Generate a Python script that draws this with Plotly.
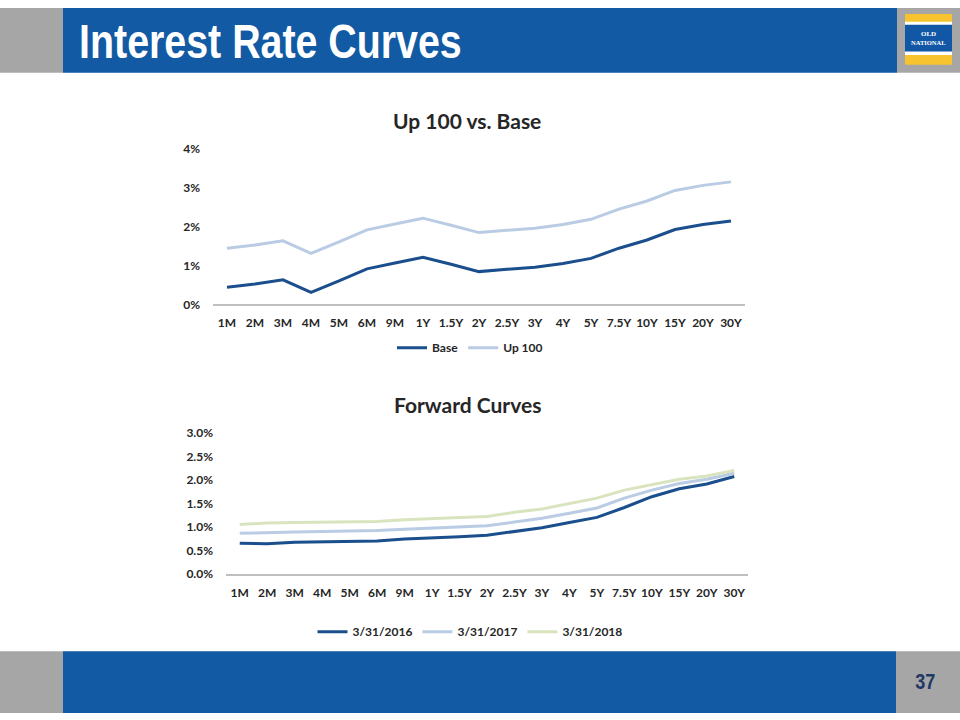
import plotly.graph_objects as go

W, H = 960, 720

tenors = ["1M", "2M", "3M", "4M", "5M", "6M", "9M", "1Y", "1.5Y", "2Y", "2.5Y",
          "3Y", "4Y", "5Y", "7.5Y", "10Y", "15Y", "20Y", "30Y"]

base = [0.44, 0.52, 0.63, 0.31, 0.60, 0.91, 1.06, 1.21, 1.03, 0.84, 0.90,
        0.95, 1.05, 1.18, 1.44, 1.65, 1.92, 2.05, 2.14]
up100 = [1.44, 1.52, 1.63, 1.31, 1.60, 1.91, 2.06, 2.21, 2.03, 1.84, 1.90,
         1.95, 2.05, 2.18, 2.44, 2.65, 2.92, 3.05, 3.14]

fwd_2016 = [0.66, 0.65, 0.68, 0.69, 0.70, 0.71, 0.75, 0.77, 0.80, 0.83, 0.91,
            0.99, 1.10, 1.21, 1.42, 1.65, 1.82, 1.92, 2.08]
fwd_2017 = [0.87, 0.89, 0.90, 0.91, 0.92, 0.93, 0.96, 0.98, 1.00, 1.03, 1.11,
            1.19, 1.30, 1.41, 1.62, 1.79, 1.93, 2.02, 2.15]
fwd_2018 = [1.06, 1.09, 1.10, 1.11, 1.12, 1.12, 1.16, 1.19, 1.21, 1.23, 1.32,
            1.39, 1.51, 1.62, 1.79, 1.91, 2.02, 2.09, 2.21]

C_DARK = "#1A4E8C"
C_LIGHT = "#B9CCE4"
C_GREEN = "#D9E4BE"
TXT = "#262626"
FONT = "Lato, 'Open Sans', sans-serif"
ARIAL = "'Liberation Sans', Arial, sans-serif"


def fx(px):
    return px / W


def fy(py):
    return 1 - py / H


fig = go.Figure()

fig.add_trace(go.Scatter(x=tenors, y=base, name="Base", mode="lines",
                         line=dict(color=C_DARK, width=3), xaxis="x", yaxis="y", legend="legend"))
fig.add_trace(go.Scatter(x=tenors, y=up100, name="Up 100", mode="lines",
                         line=dict(color=C_LIGHT, width=3), xaxis="x", yaxis="y", legend="legend"))

fig.add_trace(go.Scatter(x=tenors, y=fwd_2016, name="3/31/2016", mode="lines",
                         line=dict(color=C_DARK, width=3), xaxis="x2", yaxis="y2", legend="legend2"))
fig.add_trace(go.Scatter(x=tenors, y=fwd_2017, name="3/31/2017", mode="lines",
                         line=dict(color=C_LIGHT, width=3), xaxis="x2", yaxis="y2", legend="legend2"))
fig.add_trace(go.Scatter(x=tenors, y=fwd_2018, name="3/31/2018", mode="lines",
                         line=dict(color=C_GREEN, width=3), xaxis="x2", yaxis="y2", legend="legend2"))

tickfont = dict(family=FONT, size=12, color=TXT, weight="bold")

xcommon = dict(type="category", range=[-0.5, 18.5], showgrid=False, zeroline=False,
               showline=True, linecolor="#BFBFBF", linewidth=2, ticks="",
               tickfont=tickfont, ticklabelstandoff=6, fixedrange=True)
ycommon = dict(showgrid=False, zeroline=False, showline=False, ticks="",
               tickfont=tickfont, ticklabelstandoff=12, fixedrange=True)

fig.update_layout(
    width=W, height=H,
    margin=dict(l=0, r=0, t=0, b=0),
    paper_bgcolor="white", plot_bgcolor="white",
    showlegend=True,
    xaxis=dict(domain=[fx(213), fx(745)], anchor="y", **xcommon),
    yaxis=dict(domain=[fy(302.7), fy(143.3)], anchor="x", range=[0, 4], dtick=1,
               ticksuffix="%", **ycommon),
    xaxis2=dict(domain=[fx(226), fx(748)], anchor="y2", **xcommon),
    yaxis2=dict(domain=[fy(578.3), fy(434.3)], anchor="x2", range=[0, 3], dtick=0.5,
                tickformat=".1f", ticksuffix="%", **ycommon),
    legend=dict(orientation="h", x=fx(470), xanchor="center", y=fy(347), yanchor="middle",
                font=dict(family=FONT, size=12, color=TXT, weight="bold"),
                bgcolor="rgba(0,0,0,0)", itemwidth=30, tracegroupgap=0),
    legend2=dict(orientation="h", x=fx(470), xanchor="center", y=fy(637), yanchor="middle",
                 font=dict(family=FONT, size=12, color=TXT, weight="bold"),
                 bgcolor="rgba(0,0,0,0)", itemwidth=30, tracegroupgap=0),
)

# header / footer bands
shapes = []
BLUE = "#125AA3"
GRAY = "#A6A6A6"
shapes.append(dict(type="rect", xref="paper", yref="paper", x0=0, x1=fx(63), y0=fy(66), y1=1,
                   fillcolor=GRAY, line_width=0, layer="below"))
shapes.append(dict(type="rect", xref="paper", yref="paper", x0=fx(63), x1=fx(897), y0=fy(66), y1=1,
                   fillcolor=BLUE, line_width=0, layer="below"))
shapes.append(dict(type="rect", xref="paper", yref="paper", x0=fx(897), x1=1, y0=fy(66), y1=1,
                   fillcolor=GRAY, line_width=0, layer="below"))
# logo
shapes.append(dict(type="rect", xref="paper", yref="paper", x0=fx(905), x1=fx(952), y0=fy(58), y1=fy(6),
                   fillcolor="#F7C32E", line_width=0))
shapes.append(dict(type="rect", xref="paper", yref="paper", x0=fx(905), x1=fx(952), y0=fy(48), y1=fy(14),
                   fillcolor="white", line_width=0))
shapes.append(dict(type="rect", xref="paper", yref="paper", x0=fx(905), x1=fx(952), y0=fy(44.5), y1=fy(17),
                   fillcolor="#1257A6", line_width=0))
# footer
shapes.append(dict(type="rect", xref="paper", yref="paper", x0=0, x1=fx(63), y0=0, y1=fy(657),
                   fillcolor=GRAY, line_width=0, layer="below"))
shapes.append(dict(type="rect", xref="paper", yref="paper", x0=fx(63), x1=fx(896), y0=0, y1=fy(657),
                   fillcolor=BLUE, line_width=0, layer="below"))
shapes.append(dict(type="rect", xref="paper", yref="paper", x0=fx(896), x1=1, y0=0, y1=fy(657),
                   fillcolor=GRAY, line_width=0, layer="below"))
fig.update_layout(shapes=shapes)

annotations = [
    dict(text="Interest Rate Curves", x=fx(77), y=fy(34), xanchor="left", yanchor="middle",
         showarrow=False, xref="paper", yref="paper",
         font=dict(family=ARIAL, size=48, color="white", weight="bold")),
    dict(text="OLD", x=fx(928.5), y=fy(26.5), xanchor="center", yanchor="middle", showarrow=False,
         xref="paper", yref="paper",
         font=dict(family="'Liberation Serif', serif", size=7, color="white", weight="bold")),
    dict(text="NATIONAL", x=fx(928.5), y=fy(35), xanchor="center", yanchor="middle", showarrow=False,
         xref="paper", yref="paper",
         font=dict(family="'Liberation Serif', serif", size=6.5, color="white", weight="bold")),
    dict(text="37", x=fx(925), y=fy(688), xanchor="center", yanchor="middle", showarrow=False,
         xref="paper", yref="paper",
         font=dict(family=ARIAL, size=22, color="#1F3864", weight="bold")),
    dict(text="Up 100 vs. Base", x=fx(467), y=fy(115), xanchor="center", yanchor="middle",
         showarrow=False, xref="paper", yref="paper",
         font=dict(family=FONT, size=21, color=TXT, weight="bold")),
    dict(text="Forward Curves", x=fx(467), y=fy(405), xanchor="center", yanchor="middle",
         showarrow=False, xref="paper", yref="paper",
         font=dict(family=FONT, size=21, color=TXT, weight="bold")),
]
fig.update_layout(annotations=annotations)

post = """
var gd = document.getElementById('{plot_id}');
document.documentElement.style.margin='0';
document.documentElement.style.overflow='hidden';
document.documentElement.style.height='720px';
document.body.style.margin='0';document.body.style.padding='0';
document.body.style.overflow='hidden';
document.body.style.height='720px';
gd.style.position='fixed'; gd.style.top='0px'; gd.style.left='0px';
window.scrollTo(0,0);
document.querySelectorAll('text.annotation-text').forEach(function(t){
  var s = t.textContent;
  if (s === 'Interest Rate Curves') {
    t.style.transformBox='fill-box'; t.style.transformOrigin='left center';
    t.style.transform='scaleX(0.82)';
  } else if (s === '37') {
    t.style.transformBox='fill-box'; t.style.transformOrigin='center';
    t.style.transform='scaleX(0.82)';
  }
});
"""

fig.write_html("out.html", post_script=post, config={"displayModeBar": False})
